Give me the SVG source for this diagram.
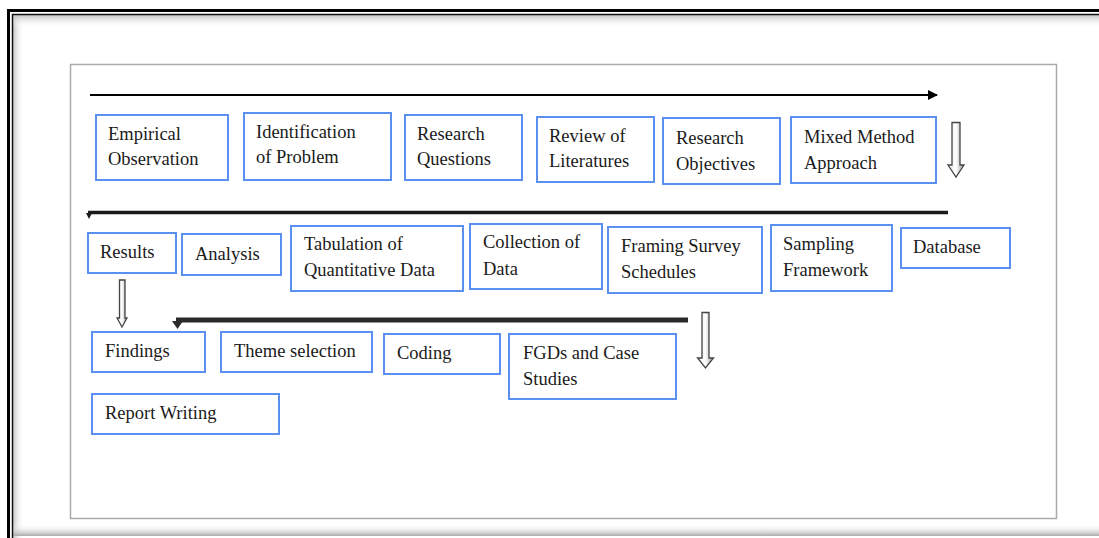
<svg xmlns="http://www.w3.org/2000/svg" width="1099" height="538" viewBox="0 0 1099 538">
<defs>
<style>
.box{fill:#fff;stroke:#5b8ff0;stroke-width:2}
.t{font-family:"Liberation Serif","Times New Roman",serif;font-size:18.5px;fill:#1a1a1a}
.blk{fill:url(#ag);stroke:#444;stroke-width:1.3}
</style>
<linearGradient id="ag" x1="0" y1="0" x2="1" y2="0">
<stop offset="0" stop-color="#e8e8e8"/><stop offset="0.5" stop-color="#ffffff"/><stop offset="1" stop-color="#9a9a9a"/>
</linearGradient>
<linearGradient id="shL" x1="0" y1="0" x2="1" y2="0">
<stop offset="0" stop-color="#bbb"/><stop offset="1" stop-color="#fff" stop-opacity="0"/>
</linearGradient>
<linearGradient id="shT" x1="0" y1="0" x2="0" y2="1">
<stop offset="0" stop-color="#bbb"/><stop offset="1" stop-color="#fff" stop-opacity="0"/>
</linearGradient>
<linearGradient id="shB" x1="0" y1="1" x2="0" y2="0">
<stop offset="0" stop-color="#aaa"/><stop offset="1" stop-color="#fff" stop-opacity="0"/>
</linearGradient>
<marker id="ah" viewBox="0 0 10 10" refX="9" refY="5" markerWidth="5" markerHeight="5" orient="auto" markerUnits="strokeWidth">
<path d="M0,0 L10,5 L0,10 z" fill="#000"/>
</marker>
</defs>
<rect width="1099" height="538" fill="#fff"/>
<g id="frame">
<rect x="12" y="14" width="12" height="524" fill="url(#shL)"/>
<rect x="12" y="14" width="1087" height="14" fill="url(#shT)"/>
<rect x="12" y="524" width="1087" height="12" fill="url(#shB)"/>
<path d="M8.5,538 V10.5 H1099" fill="none" stroke="#000" stroke-width="3"/>
<path d="M12.5,538 V14.5 H1099" fill="none" stroke="#111" stroke-width="1.5"/>
<rect x="70.5" y="64.5" width="986" height="454" fill="#fff" stroke="#aaa" stroke-width="1.5"/>
</g>
<g id="connectors">
<line x1="90" y1="95" x2="937" y2="95" stroke="#000" stroke-width="2" marker-end="url(#ah)"/>
<line x1="88" y1="212.5" x2="948" y2="212.5" stroke="#1a1a1a" stroke-width="3.5"/>
<path d="M86,213 L92,213 L89,219 z" fill="#1a1a1a"/>
<line x1="176" y1="320" x2="688" y2="320" stroke="#2a2a2a" stroke-width="5"/>
<path d="M172,321 L183,321 L177.5,329 z" fill="#2a2a2a"/>
<path class="blk" d="M952,122.5 H960 V165 H964 L956,177 L948,165 H952 Z"/>
<path class="blk" d="M119.5,280 H125 V318 H127 L122,327 L117,318 H119.5 Z"/>
<path class="blk" d="M702,312.5 H709 V358 H713.5 L705.5,368 L697.5,358 H702 Z"/>
</g>
<g id="n1"><rect class="box" x="96" y="115" width="132" height="65"/><text class="t" x="108" y="140">Empirical</text><text class="t" x="108" y="165">Observation</text></g>
<g id="n2"><rect class="box" x="244" y="113" width="147" height="67"/><text class="t" x="256" y="138">Identification</text><text class="t" x="256" y="163">of Problem</text></g>
<g id="n3"><rect class="box" x="405" y="115" width="117" height="65"/><text class="t" x="417" y="140">Research</text><text class="t" x="417" y="165">Questions</text></g>
<g id="n4"><rect class="box" x="537" y="117" width="117" height="65"/><text class="t" x="549" y="142">Review of</text><text class="t" x="549" y="167">Literatures</text></g>
<g id="n5"><rect class="box" x="663" y="118" width="117" height="66"/><text class="t" x="676" y="144">Research</text><text class="t" x="676" y="170">Objectives</text></g>
<g id="n6"><rect class="box" x="791" y="117" width="145" height="66"/><text class="t" x="804" y="143">Mixed Method</text><text class="t" x="804" y="169">Approach</text></g>
<g id="n7"><rect class="box" x="88" y="233" width="88" height="40"/><text class="t" x="100" y="258">Results</text></g>
<g id="n8"><rect class="box" x="182" y="234" width="99" height="41"/><text class="t" x="195" y="260">Analysis</text></g>
<g id="n9"><rect class="box" x="291" y="226" width="172" height="65"/><text class="t" x="304" y="250">Tabulation of</text><text class="t" x="304" y="276">Quantitative Data</text></g>
<g id="n10"><rect class="box" x="470" y="224" width="132" height="65"/><text class="t" x="483" y="248">Collection of</text><text class="t" x="483" y="275">Data</text></g>
<g id="n11"><rect class="box" x="608" y="227" width="154" height="66"/><text class="t" x="621" y="252">Framing Survey</text><text class="t" x="621" y="278">Schedules</text></g>
<g id="n12"><rect class="box" x="771" y="225" width="121" height="66"/><text class="t" x="783" y="250">Sampling</text><text class="t" x="783" y="276">Framework</text></g>
<g id="n13"><rect class="box" x="901" y="228" width="109" height="40"/><text class="t" x="913" y="253">Database</text></g>
<g id="n14"><rect class="box" x="92" y="332" width="113" height="40"/><text class="t" x="105" y="357">Findings</text></g>
<g id="n15"><rect class="box" x="221" y="332" width="151" height="40"/><text class="t" x="234" y="357">Theme selection</text></g>
<g id="n16"><rect class="box" x="384" y="334" width="116" height="40"/><text class="t" x="397" y="359">Coding</text></g>
<g id="n17"><rect class="box" x="509" y="334" width="167" height="65"/><text class="t" x="523" y="359">FGDs and Case</text><text class="t" x="523" y="385">Studies</text></g>
<g id="n18"><rect class="box" x="92" y="394" width="187" height="40"/><text class="t" x="105" y="419">Report Writing</text></g>
</svg>
